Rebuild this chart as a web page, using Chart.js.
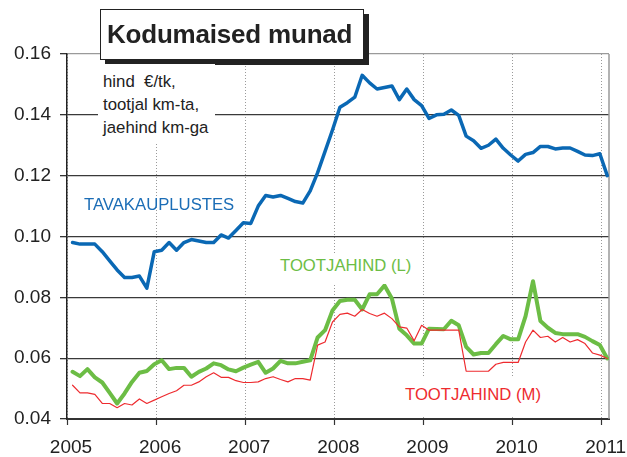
<!DOCTYPE html>
<html>
<head>
<meta charset="utf-8">
<script src="https://cdn.jsdelivr.net/npm/chart.js@4"></script>
<style>
  body { margin: 0; background: #fff; }
  #wrap { position: relative; width: 627px; height: 457px; font-family: "Liberation Sans", Arial, sans-serif; }
  #wrap canvas { position: absolute; left: 0; top: 0; }
  .note { position: absolute; background: #fff; white-space: nowrap; }
  #title {
    left: 100px; top: 9px; width: 256px; height: 49px;
    border: 1.5px solid #222; box-shadow: 5px 5px 0 #222;
    font-weight: bold; font-size: 26px; letter-spacing: -0.2px; color: #222;
    line-height: 49px; padding-left: 6px; box-sizing: content-box;
  }
  #unit { left: 98px; top: 64px; width: 117px; height: 78px; font-size: 16.8px; line-height: 23px; color: #222; padding-left: 5px; box-sizing: border-box; padding-top: 6px; }
  .lbl { font-size: 16.7px; line-height: 20px; padding: 0 4px; }
</style>
</head>
<body>
<div id="wrap">
  <canvas id="eggChart" width="627" height="457"></canvas>
  <div id="title" class="note">Kodumaised munad</div>
  <div id="unit" class="note">hind&nbsp; €/tk,<br>tootjal km-ta,<br>jaehind km-ga</div>
  <div class="note lbl" style="left:80px; top:195px; color:#1b6db6; background:transparent;">TAVAKAUPLUSTES</div>
  <div class="note lbl" style="left:276px; top:253px; color:#6cbd45; padding-top:3px; padding-bottom:8px;">TOOTJAHIND (L)</div>
  <div class="note lbl" style="left:401px; top:377px; color:#ee2b2f; padding-top:8px; padding-bottom:10px;">TOOTJAHIND (M)</div>
</div>
<script>
// monthly prices, Jan 2005 .. Jan 2011
const startYear = 2005;
const years = [2005, 2006, 2007, 2008, 2009, 2010, 2011];
const yTicks = [0.04, 0.06, 0.08, 0.10, 0.12, 0.14, 0.16];

const tavakauplustes = [
  0.098, 0.0975, 0.0975, 0.0975, 0.095, 0.092, 0.089, 0.0865, 0.0865, 0.087, 0.083, 0.095,
  0.0955, 0.098, 0.0955, 0.098, 0.099, 0.0985, 0.098, 0.098, 0.1005, 0.0995, 0.102, 0.1045,
  0.1043, 0.110, 0.1135, 0.113, 0.1135, 0.1125, 0.1115, 0.111, 0.115, 0.121, 0.128, 0.135,
  0.1425, 0.144, 0.1458, 0.153, 0.1505, 0.1485, 0.149, 0.1495, 0.145, 0.1485, 0.145, 0.143,
  0.1388, 0.140, 0.1402, 0.1416, 0.1398, 0.133, 0.1315, 0.129, 0.130, 0.132, 0.129, 0.1268,
  0.1248, 0.127, 0.1276, 0.1296, 0.1296, 0.1288, 0.1291, 0.1291, 0.128, 0.1268, 0.1266, 0.1272,
  0.120
];
const tootjahindL = [
  0.0555, 0.0541, 0.0564, 0.0537, 0.052, 0.0486, 0.0451, 0.0484, 0.0522, 0.0552, 0.0558, 0.058,
  0.0593, 0.0564, 0.0568, 0.0568, 0.0539, 0.0555, 0.0566, 0.0583, 0.0577, 0.0563, 0.0557, 0.0569,
  0.0579, 0.0588, 0.0552, 0.0566, 0.0591, 0.0583, 0.0583, 0.0588, 0.0593, 0.0668, 0.0692, 0.0757,
  0.0788, 0.0792, 0.0792, 0.076, 0.081, 0.081, 0.0839, 0.0796, 0.0697, 0.0675, 0.0648, 0.0648,
  0.0697, 0.0696, 0.0695, 0.0723, 0.0708, 0.0637, 0.0612, 0.0617, 0.0617, 0.0646, 0.0673, 0.0662,
  0.0662, 0.0738, 0.0853, 0.0722, 0.070, 0.0683, 0.0679, 0.0679, 0.0679, 0.067, 0.0656, 0.0643,
  0.0599
];
const tootjahindM = [
  0.0511, 0.0486, 0.0486, 0.0481, 0.0451, 0.0451, 0.0437, 0.0451, 0.0446, 0.0466, 0.0451, 0.0462,
  0.0473, 0.0484, 0.0493, 0.0511, 0.0511, 0.0522, 0.0539, 0.0552, 0.0537, 0.0537, 0.0526, 0.052,
  0.052, 0.0522, 0.0533, 0.0539, 0.053, 0.0522, 0.0533, 0.0533, 0.0528, 0.0643, 0.0653, 0.0719,
  0.0744, 0.0748, 0.0738, 0.076, 0.0747, 0.0738, 0.0748, 0.073, 0.0703, 0.0699, 0.0657, 0.0708,
  0.0692, 0.0692, 0.0692, 0.0692, 0.0692, 0.0557, 0.0557, 0.0557, 0.0557, 0.058, 0.0586, 0.0586,
  0.0586, 0.0653, 0.0692, 0.0668, 0.0672, 0.0653, 0.0668, 0.0653, 0.0661, 0.0648, 0.0617, 0.061,
  0.0599
];

// month i sits a bit past the start of its month on the year axis
const toPoints = (arr) => arr.map((v, i) => ({ x: startYear + (i + 0.75) / 12, y: v }));

const rightBorder = {
  id: "rightBorder",
  beforeDatasetsDraw(chart) {
    const { ctx, chartArea } = chart;
    ctx.save();
    ctx.strokeStyle = "#9a9a9a";
    ctx.lineWidth = 1.5;
    ctx.beginPath();
    ctx.moveTo(chartArea.right, chartArea.top);
    ctx.lineTo(chartArea.right, chartArea.bottom);
    ctx.stroke();
    ctx.restore();
  },
};

Chart.defaults.font.family = '"Liberation Sans", Arial, sans-serif';

const ctx = document.getElementById("eggChart").getContext("2d");
new Chart(ctx, {
  type: "line",
  data: {
    datasets: [
      {
        label: "TOOTJAHIND (M)",
        data: toPoints(tootjahindM),
        borderColor: "#ee2b2f",
        borderWidth: 1.2,
      },
      {
        label: "TOOTJAHIND (L)",
        data: toPoints(tootjahindL),
        borderColor: "#6cbd45",
        borderWidth: 4,
      },
      {
        label: "TAVAKAUPLUSTES",
        data: toPoints(tavakauplustes),
        borderColor: "#0a68b4",
        borderWidth: 3.5,
      },
    ],
  },
  options: {
    responsive: false,
    animation: false,
    layout: { padding: { top: 54, right: 18, left: 0, bottom: 0 } },
    elements: {
      point: { radius: 0 },
      line: { tension: 0, borderJoinStyle: "round", borderCapStyle: "round" },
    },
    plugins: {
      legend: { display: false },
      tooltip: { enabled: false },
    },
    scales: {
      x: {
        type: "linear",
        min: 2005,
        max: 2011.082,
        afterBuildTicks: (s) => { s.ticks = years.map((v) => ({ value: v })); },
        afterFit: (s) => { s.height = 38; s.paddingRight = 0; s.paddingLeft = 0; },
        ticks: {
          callback: (v) => String(v),
          font: { size: 19 },
          color: "#222",
          padding: 11,
          labelOffset: 4,
          maxRotation: 0,
          autoSkip: false,
        },
        grid: {
          color: "#9a9a9a",
          lineWidth: 1,
          tickLength: 6,
          tickColor: "#333",
          tickWidth: 1.2,
        },
        border: { color: "#333", width: 2, dash: [1, 2] },
      },
      y: {
        min: 0.04,
        max: 0.16,
        afterBuildTicks: (s) => { s.ticks = yTicks.map((v) => ({ value: v })); },
        afterFit: (s) => { s.width = 67; s.paddingTop = 0; s.paddingBottom = 0; },
        ticks: {
          callback: (v) => v.toFixed(2),
          font: { size: 19 },
          color: "#222",
          padding: 9,
        },
        grid: {
          color: (c) => (c.tick && c.tick.value >= 0.159 ? "#9a9a9a" : "#3a3a3a"),
          lineWidth: 1.3,
          tickLength: 7,
          tickColor: "#333",
        },
        border: { color: "#222", width: 1.5 },
      },
    },
  },
  plugins: [rightBorder],
});
</script>
</body>
</html>
